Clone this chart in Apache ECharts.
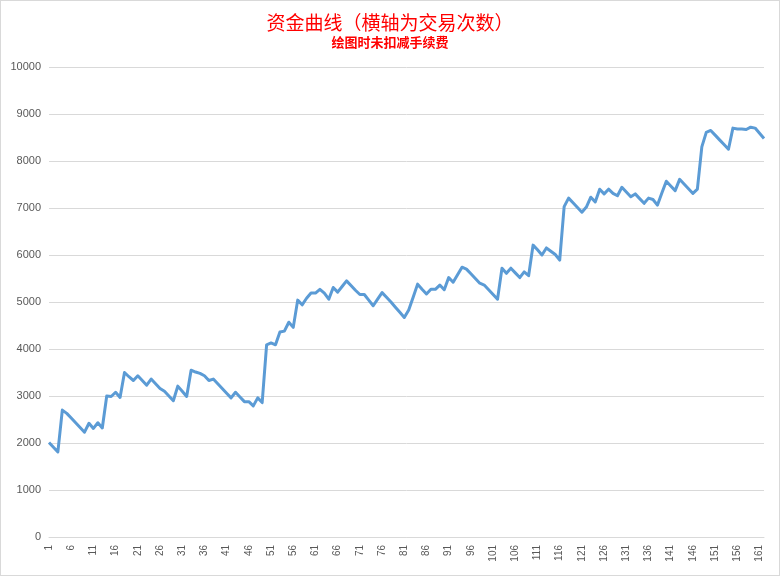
<!DOCTYPE html>
<html>
<head>
<meta charset="utf-8">
<script src="https://cdn.jsdelivr.net/npm/echarts@6/dist/echarts.min.js"></script>
<style>
  body { margin: 0; background: #fff; }
  #wrap { width: 780px; height: 576px; box-sizing: border-box; border: 1px solid #d9d9d9; }
  #main { width: 778px; height: 574px; }
</style>
</head>
<body>
<div id="wrap"><div id="main"></div></div>
<script>
var myChart = echarts.init(document.getElementById('main'));

// equity after each trade
var equity = [
  2010, 1910, 1810, 2700, 2630, 2530, 2430, 2330, 2230, 2420,
  2310, 2430, 2320, 3000, 2990, 3080, 2970, 3500, 3410, 3330,
  3430, 3330, 3230, 3360, 3260, 3160, 3100, 3000, 2900, 3210,
  3100, 2990, 3550, 3510, 3480, 3430, 3330, 3360, 3260, 3160,
  3060, 2960, 3080, 2980, 2880, 2880, 2790, 2960, 2860, 4090,
  4130, 4090, 4360, 4380, 4570, 4460, 5040, 4940, 5080, 5190,
  5190, 5270, 5190, 5060, 5310, 5210, 5330, 5450, 5350, 5250,
  5160, 5160, 5040, 4920, 5060, 5200, 5100, 5000, 4890, 4780,
  4670, 4830, 5100, 5380, 5270, 5170, 5270, 5270, 5360, 5260,
  5520, 5420, 5580, 5740, 5700, 5600, 5500, 5400, 5360, 5260,
  5160, 5060, 5720, 5610, 5720, 5620, 5520, 5640, 5560, 6210,
  6110, 6000, 6150, 6080, 6010, 5890, 7030, 7210, 7110, 7010,
  6910, 7020, 7230, 7130, 7400, 7300, 7400, 7310, 7260, 7440,
  7340, 7240, 7300, 7200, 7100, 7210, 7180, 7060, 7320, 7570,
  7470, 7370, 7610, 7510, 7410, 7310, 7400, 8300, 8610, 8650,
  8550, 8450, 8350, 8250, 8700, 8680, 8680, 8670, 8720, 8700,
  8590, 8480
];

// trade numbers 1..n
var trades = [];
for (var i = 0; i < equity.length; i++) {
  trades.push(String(i + 1));
}

var titleText = '资金曲线（横轴为交易次数）';
var subText = '绘图时未扣减手续费';

var option = {
  animation: false,
  title: {
    text: titleText,
    subtext: subText,
    left: 'center',
    top: 7,
    itemGap: 4,
    textStyle: {
      color: '#ff0000',
      fontSize: 19,
      fontWeight: 'normal',
      fontFamily: 'Noto Sans CJK SC'
    },
    subtextStyle: {
      color: '#ff0000',
      fontSize: 13,
      fontWeight: 'bold',
      fontFamily: 'Noto Sans CJK SC'
    }
  },
  grid: { left: 48, right: 15, top: 66, bottom: 38 },
  xAxis: {
    type: 'category',
    data: trades,
    boundaryGap: false,
    axisLine: { lineStyle: { color: '#d9d9d9' } },
    axisTick: { show: false },
    axisLabel: {
      interval: 4,
      rotate: 90,
      margin: 8,
      color: '#595959',
      fontSize: 10,
      fontFamily: 'Liberation Sans'
    }
  },
  yAxis: {
    type: 'value',
    min: 0,
    max: 10000,
    interval: 1000,
    axisLine: { show: false },
    axisTick: { show: false },
    splitLine: { lineStyle: { color: '#d9d9d9' } },
    axisLabel: {
      margin: 8,
      color: '#595959',
      fontSize: 11,
      fontFamily: 'Liberation Sans',
      formatter: function (v) { return String(v); }
    }
  },
  series: [{
    name: '资金',
    type: 'line',
    data: equity,
    showSymbol: false,
    lineStyle: { color: '#5b9bd5', width: 3, join: 'round' },
    itemStyle: { color: '#5b9bd5' }
  }]
};
myChart.setOption(option);
</script>
</body>
</html>
